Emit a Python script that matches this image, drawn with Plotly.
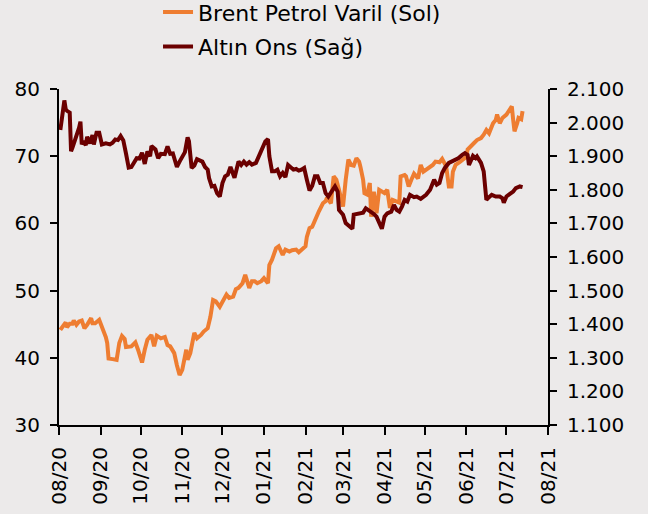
import plotly.graph_objects as go

# ---- Brent (left axis) ----
brent_dates = [
    "2020-08-02","2020-08-04","2020-08-06","2020-08-07","2020-08-09","2020-08-11","2020-08-12",
    "2020-08-14","2020-08-16","2020-08-18","2020-08-20","2020-08-22","2020-08-25","2020-08-26",
    "2020-08-28","2020-08-31","2020-09-03","2020-09-05","2020-09-06","2020-09-07","2020-09-10",
    "2020-09-13","2020-09-15","2020-09-17","2020-09-19","2020-09-20","2020-09-24","2020-09-27",
    "2020-09-29","2020-10-02","2020-10-04","2020-10-06","2020-10-09","2020-10-11","2020-10-13",
    "2020-10-16","2020-10-19","2020-10-21","2020-10-23","2020-10-26","2020-10-28","2020-10-30",
    "2020-11-01","2020-11-04","2020-11-05","2020-11-07","2020-11-10","2020-11-12","2020-11-15",
    "2020-11-17","2020-11-20","2020-11-22","2020-11-24","2020-11-26","2020-11-29","2020-12-02",
    "2020-12-04","2020-12-06","2020-12-09","2020-12-11","2020-12-13","2020-12-16","2020-12-18",
    "2020-12-21","2020-12-23","2020-12-25","2020-12-27","2020-12-30","2021-01-01","2021-01-04",
    "2021-01-05","2021-01-07","2021-01-09","2021-01-10","2021-01-12","2021-01-14","2021-01-15",
    "2021-01-17","2021-01-20","2021-01-22","2021-01-25","2021-01-27","2021-01-30","2021-02-01",
    "2021-02-02","2021-02-04","2021-02-06","2021-02-09","2021-02-11","2021-02-14","2021-02-16",
    "2021-02-17","2021-02-20","2021-02-22","2021-02-24","2021-02-26","2021-03-01","2021-03-03",
    "2021-03-05","2021-03-07","2021-03-09","2021-03-11","2021-03-13","2021-03-14","2021-03-16",
    "2021-03-17","2021-03-19","2021-03-21","2021-03-22","2021-03-24","2021-03-25","2021-03-26",
    "2021-03-28","2021-03-30","2021-04-01","2021-04-03","2021-04-05","2021-04-07","2021-04-09",
    "2021-04-12","2021-04-13","2021-04-16","2021-04-17","2021-04-19","2021-04-21","2021-04-23",
    "2021-04-26","2021-04-28","2021-04-30","2021-05-02","2021-05-04","2021-05-07","2021-05-09",
    "2021-05-12","2021-05-14","2021-05-17","2021-05-19","2021-05-21","2021-05-22","2021-05-24",
    "2021-05-27","2021-05-29","2021-06-01","2021-06-02","2021-06-05","2021-06-07","2021-06-09",
    "2021-06-12","2021-06-14","2021-06-16","2021-06-18","2021-06-21","2021-06-23","2021-06-24",
    "2021-06-26","2021-06-28","2021-07-01","2021-07-03","2021-07-05","2021-07-06","2021-07-07",
    "2021-07-09","2021-07-10","2021-07-12","2021-07-13",
]
brent_values = [
    44.15,44.65,45.25,44.55,45.05,45.05,45.55,
    44.9,45.4,45.55,44.4,44.9,45.9,45.15,
    45.15,45.65,44.15,43.05,42.2,39.9,39.8,
    39.7,42.2,43.25,42.8,41.6,41.7,42.3,
    41.2,39.3,41.2,42.7,43.4,41.7,43.3,
    42.9,43.1,41.9,41.7,40.7,38.9,37.45,
    38.2,41.2,39.7,40.7,43.7,42.9,43.4,
    43.9,44.4,46.1,48.6,48.4,47.6,48.6,
    49.4,48.9,49.1,50.2,50.4,51.1,52.35,
    50.4,51.4,51.4,51.1,51.4,51.85,51.1,
    53.8,54.6,55.8,56.3,56.6,55.6,55.3,
    56.1,55.8,56.0,56.1,55.7,56.3,56.6,
    58.0,59.3,59.5,61.0,61.8,63.0,63.3,
    63.8,63.0,67.0,66.5,65.0,62.5,66.5,
    69.5,68.7,68.6,69.7,69.2,68.4,66.5,
    64.5,64.3,66.0,61.0,64.7,63.0,61.5,
    65.0,64.8,64.5,65.0,62.3,63.5,63.3,
    63.1,67.0,67.2,67.0,65.5,66.5,67.4,
    66.7,68.7,67.7,68.0,68.4,68.7,69.2,
    69.1,69.6,68.5,65.5,65.5,67.7,68.7,
    69.1,69.5,69.9,71.0,71.7,72.0,72.4,
    72.7,73.2,73.9,73.4,74.9,75.4,76.2,
    74.9,75.7,76.2,76.9,77.4,75.4,73.7,
    74.9,75.7,75.5,76.7,
]

# ---- Gold (right axis) ----
gold_dates = [
    "2020-08-02","2020-08-04","2020-08-05","2020-08-06","2020-08-07","2020-08-09","2020-08-10",
    "2020-08-11","2020-08-13","2020-08-14","2020-08-16","2020-08-17","2020-08-18","2020-08-19",
    "2020-08-21","2020-08-22","2020-08-24","2020-08-26","2020-08-27","2020-08-29","2020-08-31",
    "2020-09-02","2020-09-05","2020-09-08","2020-09-10","2020-09-12","2020-09-14","2020-09-16",
    "2020-09-18","2020-09-20","2020-09-22","2020-09-24","2020-09-26","2020-09-28","2020-09-30",
    "2020-10-02","2020-10-04","2020-10-06","2020-10-08","2020-10-09","2020-10-12","2020-10-14",
    "2020-10-16","2020-10-19","2020-10-21","2020-10-23","2020-10-25","2020-10-28","2020-10-30",
    "2020-11-01","2020-11-03","2020-11-05","2020-11-06","2020-11-08","2020-11-10","2020-11-12",
    "2020-11-14","2020-11-16","2020-11-18","2020-11-20","2020-11-21","2020-11-23","2020-11-25",
    "2020-11-27","2020-11-29","2020-12-01","2020-12-03","2020-12-05","2020-12-07","2020-12-09",
    "2020-12-10","2020-12-13","2020-12-15","2020-12-17","2020-12-19","2020-12-21","2020-12-23",
    "2020-12-26","2020-12-28","2020-12-31","2021-01-02","2021-01-04","2021-01-05","2021-01-07",
    "2021-01-09","2021-01-11","2021-01-13","2021-01-15","2021-01-17","2021-01-19","2021-01-21",
    "2021-01-23","2021-01-25","2021-01-27","2021-01-29","2021-01-31","2021-02-02","2021-02-04",
    "2021-02-06","2021-02-08","2021-02-10","2021-02-12","2021-02-14","2021-02-16","2021-02-18",
    "2021-02-21","2021-02-23","2021-02-25","2021-02-26","2021-03-01","2021-03-03","2021-03-06",
    "2021-03-08","2021-03-09","2021-03-12","2021-03-16","2021-03-18","2021-03-21","2021-03-24",
    "2021-03-26","2021-03-28","2021-03-30","2021-04-01","2021-04-03","2021-04-06","2021-04-08",
    "2021-04-10","2021-04-12","2021-04-14","2021-04-16","2021-04-18","2021-04-20","2021-04-23",
    "2021-04-25","2021-04-28","2021-05-02","2021-05-05","2021-05-08","2021-05-10","2021-05-12",
    "2021-05-14","2021-05-16","2021-05-19","2021-05-21","2021-05-24","2021-05-26","2021-05-29",
    "2021-05-31","2021-06-02","2021-06-03","2021-06-06","2021-06-08","2021-06-09","2021-06-12",
    "2021-06-14","2021-06-16","2021-06-18","2021-06-20","2021-06-23","2021-06-26","2021-06-28",
    "2021-06-29","2021-07-01","2021-07-03","2021-07-06","2021-07-08","2021-07-11","2021-07-13",
]
gold_values = [
    1978,2045,2066,2040,2035,2030,1915,
    1925,1947,1965,1985,2003,1935,1945,
    1933,1958,1938,1963,1935,1970,1970,
    1935,1938,1935,1940,1950,1948,1960,
    1947,1908,1866,1868,1884,1894,1893,
    1910,1877,1914,1900,1930,1920,1894,
    1907,1906,1929,1907,1908,1868,1884,
    1897,1912,1956,1945,1865,1872,1891,
    1888,1884,1868,1860,1835,1810,1812,
    1790,1780,1820,1840,1845,1868,1840,
    1836,1884,1874,1884,1875,1882,1875,
    1880,1897,1924,1944,1951,1900,1855,
    1855,1860,1840,1850,1838,1874,1866,
    1860,1862,1857,1860,1865,1830,1798,
    1812,1840,1840,1820,1820,1790,1780,
    1800,1810,1795,1740,1726,1701,1691,
    1684,1726,1728,1732,1745,1738,1728,
    1720,1701,1684,1720,1730,1735,1755,
    1740,1735,1750,1770,1765,1785,1778,
    1780,1773,1785,1800,1830,1815,1820,
    1850,1865,1880,1884,1889,1894,1904,
    1909,1904,1874,1901,1894,1899,1880,
    1855,1770,1778,1785,1780,1780,1775,
    1762,1780,1785,1795,1805,1810,1808,
]

brent_name = "Brent Petrol Varil (Sol)"
gold_name = "Altın Ons (Sağ)"
brent_color = "#EE7D31"
gold_color = "#6B0000"
bg = "#ECEAEA"
font_family = "DejaVu Sans"

fig = go.Figure()
fig.add_trace(go.Scatter(x=brent_dates, y=brent_values, name=brent_name, mode="lines",
                         line=dict(color=brent_color, width=4), yaxis="y", legendgroup="a"))
fig.add_trace(go.Scatter(x=gold_dates, y=gold_values, name=gold_name, mode="lines",
                         line=dict(color=gold_color, width=4), yaxis="y2", legendgroup="b"))

fig.update_layout(
    width=648, height=514,
    margin=dict(l=59, r=100, t=89, b=89, autoexpand=False),
    paper_bgcolor=bg, plot_bgcolor=bg,
    font=dict(family=font_family, color="#000000", size=20),
    separators=",.",
    showlegend=True,
    legend=dict(x=0.2025, xanchor="left", y=1.291, yanchor="top", orientation="v",
                bgcolor="rgba(0,0,0,0)", font=dict(size=22), tracegroupgap=3,
                itemwidth=30),
    xaxis=dict(
        type="date", range=["2020-08-01", "2021-08-01"],
        tickmode="linear", tick0="2020-08-01", dtick="M1", tickformat="%m/%y",
        tickangle=-90, ticks="outside", ticklen=8, tickwidth=2, tickcolor="#000",
        showline=True, linecolor="#000", linewidth=2, showgrid=False, zeroline=False,
        automargin=False, ticklabelstandoff=4, tickfont=dict(size=20),
    ),
    yaxis=dict(
        range=[30, 80], dtick=10, tick0=30, ticks="outside", ticklen=7, tickwidth=2,
        tickcolor="#000", showline=True, linecolor="#000", linewidth=2,
        showgrid=False, zeroline=False, automargin=False, ticklabelstandoff=6,
    ),
    yaxis2=dict(
        range=[1100, 2100], dtick=100, tick0=1100, overlaying="y", side="right",
        tickformat=",.0f", ticks="outside", ticklen=7, tickwidth=2, tickcolor="#000",
        showline=True, linecolor="#000", linewidth=2, showgrid=False, zeroline=False,
        automargin=False, ticklabelstandoff=6,
    ),
)

fig.write_html(
    "out.html",
    config={"displayModeBar": False},
    post_script="document.body.style.margin='0';document.body.style.overflow='hidden';",
)
